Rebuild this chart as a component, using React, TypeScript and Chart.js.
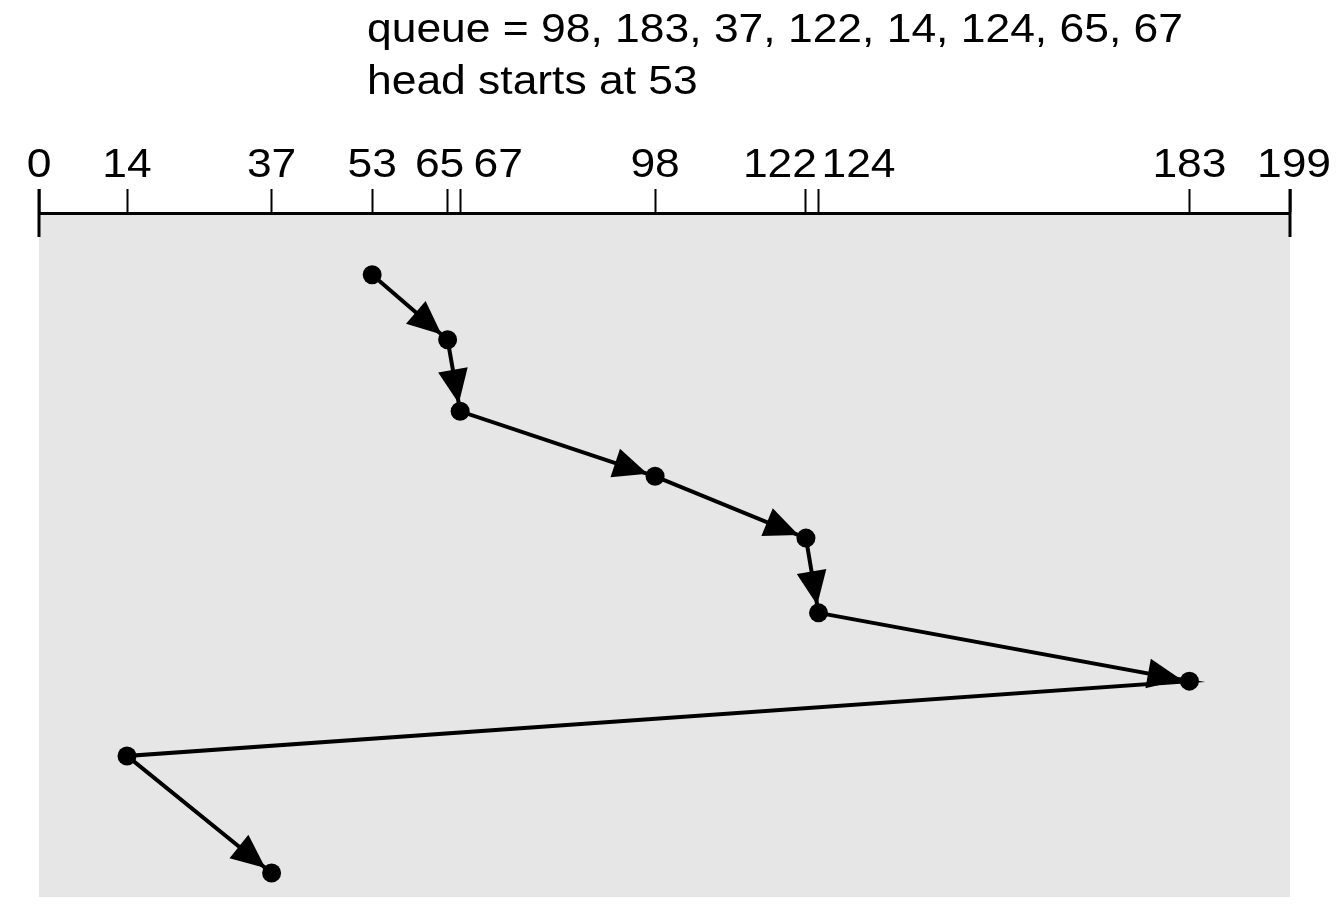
import React, { useEffect, useRef } from "react";
import { Chart, registerables } from "chart.js";

Chart.register(...registerables);

// ---- data ----
const cylinderTicks = [0, 14, 37, 53, 65, 67, 98, 122, 124, 183, 199];
const serviceOrder = [53, 65, 67, 98, 122, 124, 183, 14, 37];
const serviceStep = [0, 1, 2.1, 3.1, 4.05, 5.2, 6.25, 7.4, 9.2];
const arrowOnSegment = [true, true, true, true, true, true, false, true];
const titleLines = [
  "queue = 98, 183, 37, 122, 14, 124, 65, 67",
  "head starts at 53",
];

// ---- style ----
const FONT = "40px 'Liberation Sans', Arial, Helvetica, sans-serif";
const TEXT_STRETCH = 1.11;
const labelShift: Record<number, number> = { 65: -8, 67: 38, 122: -26, 124: 40, 199: 4 };

function stretchedText(ctx: CanvasRenderingContext2D, text: string, x: number, y: number) {
  ctx.save();
  ctx.translate(x, y);
  ctx.scale(TEXT_STRETCH, 1);
  ctx.fillText(text, 0, 0);
  ctx.restore();
}

const diagramPlugin = {
  id: "diagram",
  beforeDraw(chart: any) {
    const { ctx, chartArea: a } = chart;
    ctx.save();
    ctx.fillStyle = "#e6e6e6";
    ctx.fillRect(a.left, a.top, a.right - a.left, a.bottom - a.top);
    ctx.restore();
  },
  afterDatasetsDraw(chart: any) {
    const { ctx } = chart;
    const meta = chart.getDatasetMeta(0);
    const pts = meta.data;
    ctx.save();
    ctx.fillStyle = "#000";
    for (let i = 0; i < pts.length - 1; i++) {
      if (!arrowOnSegment[i]) continue;
      const p0 = pts[i];
      const p1 = pts[i + 1];
      const dx = p1.x - p0.x;
      const dy = p1.y - p0.y;
      const len = Math.hypot(dx, dy);
      const ux = dx / len;
      const uy = dy / len;
      const tipX = p1.x - ux * 8;
      const tipY = p1.y - uy * 8;
      const bx = tipX - ux * 34;
      const by = tipY - uy * 34;
      const hw = 15;
      ctx.beginPath();
      ctx.moveTo(tipX, tipY);
      ctx.lineTo(bx - uy * hw, by + ux * hw);
      ctx.lineTo(bx + uy * hw, by - ux * hw);
      ctx.closePath();
      ctx.fill();
    }
    ctx.restore();
  },
  afterDraw(chart: any) {
    const { ctx, chartArea: a } = chart;
    const xs = chart.scales.x;
    ctx.save();
    // end ticks that cross the axis line
    ctx.strokeStyle = "#000";
    ctx.lineWidth = 3;
    [xs.min, xs.max].forEach((v: number) => {
      const px = Math.round(xs.getPixelForValue(v));
      ctx.beginPath();
      ctx.moveTo(px, a.top - 24);
      ctx.lineTo(px, a.top + 24);
      ctx.stroke();
    });
    // tick labels
    ctx.font = FONT;
    ctx.fillStyle = "#000";
    ctx.textAlign = "center";
    ctx.textBaseline = "alphabetic";
    xs.ticks.forEach((t: any) => {
      const px = xs.getPixelForValue(t.value) + (labelShift[t.value] ?? 0);
      stretchedText(ctx, String(t.value), px, a.top - 36);
    });
    // title lines
    ctx.textAlign = "left";
    stretchedText(ctx, titleLines[0], 367, 42);
    stretchedText(ctx, titleLines[1], 367, 94);
    ctx.restore();
  },
};

export default function App() {
  const canvasRef = useRef<HTMLCanvasElement | null>(null);

  useEffect(() => {
    const canvas = canvasRef.current;
    if (!canvas) return;
    const chart = new Chart(canvas, {
      type: "line",
      data: {
        datasets: [
          {
            data: serviceOrder.map((c, i) => ({ x: c, y: serviceStep[i] })),
            borderColor: "#000",
            borderWidth: 4,
            backgroundColor: "#000",
            pointRadius: 9.5,
            pointBorderWidth: 0,
            pointBackgroundColor: "#000",
            tension: 0,
            fill: false,
          },
        ],
      },
      options: {
        animation: false,
        responsive: false,
        maintainAspectRatio: false,
        events: [],
        layout: { padding: { top: 189, left: 39, right: 48, bottom: 13 } },
        plugins: {
          legend: { display: false },
          tooltip: { enabled: false },
          title: { display: false },
        },
        scales: {
          x: {
            type: "linear",
            position: "top",
            min: 0,
            max: 199,
            afterBuildTicks: (scale: any) => {
              scale.ticks = cylinderTicks.map((v) => ({ value: v }));
            },
            ticks: { display: false },
            grid: {
              drawOnChartArea: false,
              drawTicks: true,
              tickLength: 24,
              tickWidth: 2,
              tickColor: "#000",
            },
            border: { display: true, color: "#000", width: 3 },
          },
          y: {
            type: "linear",
            display: false,
            reverse: true,
            min: -0.95,
            max: 9.57,
          },
        },
      },
      plugins: [diagramPlugin],
    } as any);
    return () => chart.destroy();
  }, []);

  return (
    <div style={{ position: "absolute", left: 0, top: 0, width: 1338, height: 910, background: "#fff" }}>
      <canvas ref={canvasRef} width={1338} height={910} style={{ display: "block" }} />
    </div>
  );
}
